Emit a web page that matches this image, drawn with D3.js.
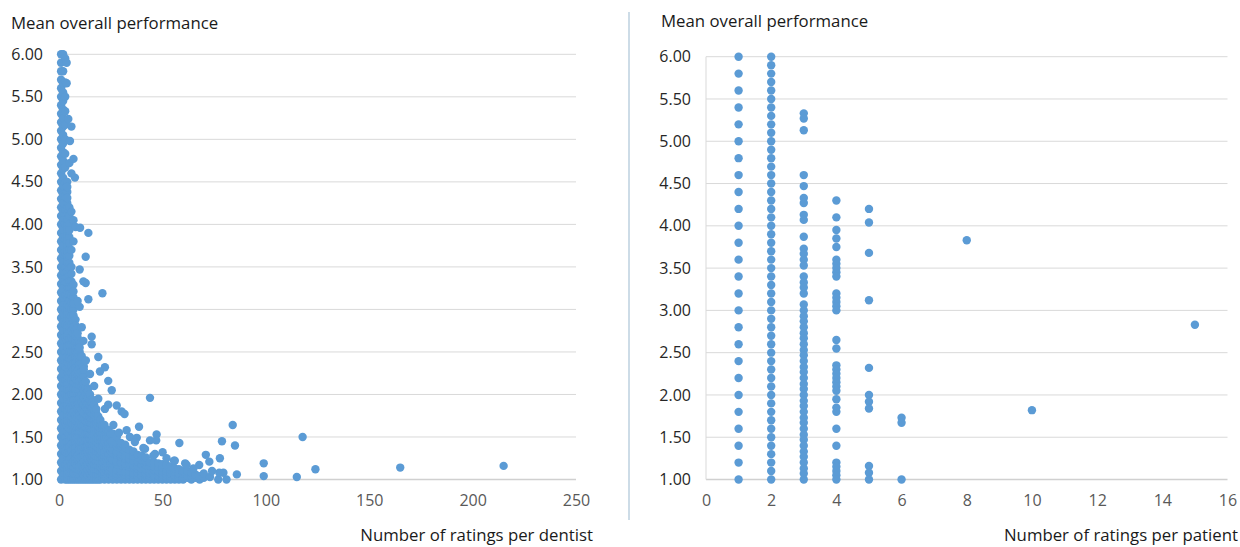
<!DOCTYPE html>
<html>
<head>
<meta charset="utf-8">
<script src="https://cdn.jsdelivr.net/npm/d3@7"></script>
<style>
html,body{margin:0;padding:0;background:#fff;}
svg{display:block;font-family:"Open Sans",sans-serif;}
</style>
</head>
<body>
<svg id="chart" width="1240" height="547"></svg>
<script>
// ---------- DATA ----------
const yTicks = [1.0,1.5,2.0,2.5,3.0,3.5,4.0,4.5,5.0,5.5,6.0];
const dentistXTicks = [0,50,100,150,200,250];
const patientXTicks = [0,2,4,6,8,10,12,14,16];

const yTitle = "Mean overall performance";
const dentistXTitle = "Number of ratings per dentist";
const patientXTitle = "Number of ratings per patient";

// Left chart: dense columns [number of ratings, list of mean values]
const dentistColumns = [
  [1, [1.0,1.1,1.2,1.3,1.4,1.5,1.6,1.7,1.8,1.9,2.0,2.1,2.2,2.3,2.4,2.5,2.6,2.7,2.8,2.9,3.0,3.1,3.2,3.3,3.4,3.5,3.6,3.7,3.8,3.9,4.0,4.1,4.2,4.3,4.4,4.5,4.6,4.7,4.8,4.9,5.0,5.1,5.2,5.3,5.4,5.5,5.6,5.7,5.8,5.9,6.0]],
  [2, [1.05,1.15,1.25,1.35,1.45,1.55,1.65,1.75,1.85,1.95,2.05,2.15,2.25,2.35,2.45,2.55,2.65,2.75,2.85,2.95,3.05,3.15,3.25,3.35,3.45,3.55,3.65,3.75,3.85,3.95,4.05,4.15,4.25,4.35,4.45,4.55,4.65,4.75,4.85,4.95,5.05,5.15,5.25,5.35,5.45,5.55,5.65,5.8,6.0]],
  [3, [1.0,1.17,1.33,1.5,1.67,1.83,2.0,2.17,2.33,2.5,2.67,2.83,3.0,3.17,3.33,3.5,3.67,3.83,4.0,4.17,4.33,4.5,4.67,4.83,5.0,5.17,5.33,5.5,5.67,5.95]],
  [4, [1.0,1.13,1.25,1.38,1.5,1.63,1.75,1.88,2.0,2.13,2.25,2.38,2.5,2.63,2.75,2.88,3.0,3.13,3.25,3.38,3.5,3.63,3.75,3.88,4.0,4.13,4.25,4.38,4.5]],
  [4, [1.06,1.19,1.31,1.44,1.56,1.69,1.81,1.94,2.06,2.19,2.31,2.44,2.56,2.69,2.81,2.94,3.06,3.19,3.31,3.44,3.56,3.69,3.81,3.94,4.06,4.19,4.31,4.44]],
  [5, [1.0,1.15,1.3,1.45,1.6,1.75,1.9,2.05,2.2,2.35,2.5,2.65,2.8,2.95,3.1,3.25,3.4,3.55,3.7,3.85,4.0,4.2]],
  [5, [1.08,1.23,1.38,1.53,1.68,1.83,1.98,2.13,2.28,2.43,2.58,2.73,2.88,3.03,3.18,3.33,3.48,3.63,3.78,3.93,4.1]],
  [6, [1.0,1.17,1.33,1.5,1.67,1.83,2.0,2.17,2.33,2.5,2.67,2.83,3.0,3.17,3.33,3.5]],
  [6, [1.08,1.25,1.42,1.58,1.75,1.92,2.08,2.25,2.42,2.58,2.75,2.92,3.08,3.25,3.42]],
  [7, [1.0,1.14,1.29,1.43,1.57,1.71,1.86,2.0,2.14,2.29,2.43,2.57,2.71,2.86,3.0,3.14,3.29]],
  [7, [1.07,1.21,1.36,1.5,1.64,1.79,1.93,2.07,2.21,2.36,2.5,2.64,2.79,2.93,3.07,3.21]],
  [8, [1.0,1.13,1.25,1.38,1.5,1.63,1.75,1.88,2.0,2.13,2.25,2.38,2.5,2.63,2.75,2.88]],
  [8, [1.06,1.19,1.31,1.44,1.56,1.69,1.81,1.94,2.06,2.19,2.31,2.44,2.56,2.69,2.81]],
  [9, [1.0,1.11,1.22,1.33,1.44,1.56,1.67,1.78,1.89,2.0,2.11,2.22,2.33,2.44,2.56,2.67,2.78]],
  [9, [1.06,1.17,1.28,1.39,1.5,1.61,1.72,1.83,1.94,2.06,2.17,2.28,2.39,2.5,2.61,2.72]],
  [10, [1.0,1.1,1.2,1.3,1.4,1.5,1.6,1.7,1.8,1.9,2.0,2.1,2.2,2.3,2.4,2.5,2.6]],
  [10, [1.05,1.15,1.25,1.35,1.45,1.55,1.65,1.75,1.85,1.95,2.05,2.15,2.25,2.35,2.45,2.55]],
  [11, [1.0,1.09,1.18,1.27,1.36,1.45,1.55,1.64,1.73,1.82,1.91,2.0,2.09,2.18,2.27,2.36,2.45]],
  [12, [1.0,1.08,1.17,1.25,1.33,1.42,1.5,1.58,1.67,1.75,1.83,1.92,2.0,2.08,2.17,2.25,2.33]],
  [12, [1.04,1.13,1.21,1.29,1.38,1.46,1.54,1.63,1.71,1.79,1.88,1.96,2.04,2.13,2.21,2.29]],
  [13, [1.0,1.08,1.15,1.23,1.31,1.38,1.46,1.54,1.62,1.69,1.77,1.85,1.92,2.0,2.08,2.15]],
  [14, [1.0,1.07,1.14,1.21,1.29,1.36,1.43,1.5,1.57,1.64,1.71,1.79,1.86,1.93,2.0,2.07]],
  [14, [1.04,1.11,1.18,1.25,1.32,1.39,1.46,1.54,1.61,1.68,1.75,1.82,1.89,1.96,2.04]],
  [15, [1.0,1.07,1.13,1.2,1.27,1.33,1.4,1.47,1.53,1.6,1.67,1.73,1.8,1.87,1.93,2.0]],
  [16, [1.0,1.06,1.13,1.19,1.25,1.31,1.38,1.44,1.5,1.56,1.63,1.69,1.75,1.81,1.88,1.94]],
  [16, [1.03,1.09,1.16,1.22,1.28,1.34,1.41,1.47,1.53,1.59,1.66,1.72,1.78,1.84,1.91]],
  [17, [1.0,1.06,1.12,1.18,1.24,1.29,1.35,1.41,1.47,1.53,1.59,1.65,1.71,1.76,1.82,1.88]],
  [18, [1.0,1.06,1.11,1.17,1.22,1.28,1.33,1.39,1.44,1.5,1.56,1.61,1.67,1.72,1.78,1.83]],
  [19, [1.0,1.05,1.11,1.16,1.21,1.26,1.32,1.37,1.42,1.47,1.53,1.58,1.63,1.68,1.74]],
  [20, [1.0,1.05,1.1,1.15,1.2,1.25,1.3,1.35,1.4,1.45,1.5,1.55,1.6,1.65,1.7]],
  [21, [1.02,1.07,1.12,1.17,1.21,1.26,1.31,1.36,1.4,1.45,1.5,1.55,1.6,1.64]],
  [22, [1.0,1.05,1.09,1.14,1.23,1.27,1.32,1.41,1.45,1.5,1.59,1.64]],
  [23, [1.02,1.07,1.11,1.15,1.2,1.24,1.28,1.33,1.37,1.41,1.46,1.5,1.54,1.59]],
  [24, [1.0,1.04,1.08,1.13,1.17,1.25,1.29,1.38,1.42,1.5,1.54,1.58]],
  [25, [1.02,1.06,1.1,1.14,1.18,1.22,1.26,1.3,1.34,1.38,1.42,1.46,1.5,1.54]],
  [26, [1.0,1.04,1.08,1.12,1.19,1.23,1.31,1.35,1.42,1.46,1.54]],
  [28, [1.0,1.04,1.07,1.11,1.18,1.21,1.29,1.32,1.39,1.43,1.5]],
  [30, [1.0,1.03,1.07,1.1,1.17,1.2,1.27,1.3,1.37,1.4,1.43]],
  [32, [1.0,1.03,1.06,1.09,1.16,1.19,1.25,1.28,1.34,1.38,1.41]],
  [34, [1.0,1.03,1.06,1.09,1.15,1.18,1.24,1.29,1.35]],
  [36, [1.0,1.03,1.06,1.08,1.14,1.17,1.22,1.28,1.33]],
  [38, [1.0,1.03,1.05,1.08,1.13,1.16,1.21,1.26,1.29]],
  [40, [1.0,1.03,1.05,1.08,1.13,1.18,1.23,1.28]],
  [42, [1.0,1.02,1.05,1.07,1.12,1.17,1.21,1.26]],
  [44, [1.0,1.02,1.05,1.07,1.11,1.16,1.2]],
  [46, [1.0,1.02,1.04,1.07,1.11,1.15,1.2]],
  [48, [1.0,1.02,1.04,1.06,1.1,1.15,1.19]],
  [50, [1.0,1.02,1.04,1.06,1.1,1.14,1.18]],
  [52, [1.0,1.02,1.04,1.06,1.1,1.13,1.17]],
  [54, [1.0,1.02,1.04,1.07,1.11,1.15]],
  [56, [1.0,1.02,1.05,1.09,1.13]],
  [58, [1.0,1.03,1.07,1.12]],
  [60, [1.0,1.03,1.07,1.1]],
  [62, [1.02,1.05,1.1]],
  [64, [1.0,1.04,1.08]],
  [66, [1.02,1.06]],
  [68, [1.0,1.04]],
  [70, [1.02,1.07]]
];

// Left chart: scattered individual dentists [number of ratings, mean]
const dentistOutliers = [
  [3.7,5.9],[3.7,5.66],[4.5,5.24],[6,5.15],[5.3,4.98],[5,4.72],[7,4.77],[7.7,4.55],[6,4.6],
  [6,4.15],[7,4.05],[8,3.97],[10.2,3.96],[14.2,3.9],[7,3.8],[12.9,3.62],[6,3.7],
  [10,3.47],[11.8,3.33],[12.9,3.31],[21,3.19],[14.2,3.12],[10,3.03],[9,3.1],[11,2.79],
  [15.8,2.68],[15.8,2.59],[11.8,2.63],[13,2.4],[19,2.44],[22.2,2.32],[19.8,2.27],[15,2.24],
  [17,2.1],[23.8,2.16],[25.5,2.05],[44,1.96],[19,1.95],[23.8,1.88],[27.9,1.87],[30.3,1.8],
  [31.7,1.77],[22.2,1.83],[26.3,1.64],[32.7,1.58],[38.7,1.62],[29,1.55],[34.3,1.5],[37.6,1.49],
  [47.2,1.53],[44,1.46],[47,1.46],[58.2,1.43],[41.6,1.36],[36.7,1.44],[40.8,1.37],[78.8,1.45],
  [85.1,1.40],[84,1.64],[117.8,1.50],[50.1,1.32],[71,1.29],[45.6,1.28],[46.4,1.30],[56,1.22],
  [72.7,1.21],[77.8,1.25],[61,1.19],[67.8,1.17],[99,1.19],[65,1.13],[61.7,1.17],[124,1.12],
  [165,1.14],[215,1.16],[73,1.03],[77,1.0],[81,1.0],[79.5,1.08],[77.5,1.08],[86,1.06],
  [99,1.04],[115,1.03],[74,1.1],[55.6,1.22],[52,1.25]
];

// Right chart: [number of ratings per patient, list of mean values]
const patientColumns = [
  [1, [1.0,1.2,1.4,1.6,1.8,2.0,2.2,2.4,2.6,2.8,3.0,3.2,3.4,3.6,3.8,4.0,4.2,4.4,4.6,4.8,5.0,5.2,5.4,5.6,5.8,6.0]],
  [2, [1.0,1.1,1.2,1.3,1.4,1.5,1.6,1.7,1.8,1.9,2.0,2.1,2.2,2.3,2.4,2.5,2.6,2.7,2.8,2.9,3.0,3.1,3.2,3.3,3.4,3.5,3.6,3.7,3.8,3.9,4.0,4.1,4.2,4.3,4.4,4.5,4.6,4.7,4.8,4.9,5.0,5.1,5.2,5.3,5.4,5.5,5.6,5.7,5.8,5.9,6.0]],
  [3, [5.33,5.27,5.13,4.6,4.47,4.33,4.27,4.13,4.07,3.87,3.73,3.67,3.6,3.53,3.4,3.33,3.27,3.2,3.07,3.0,2.93,2.87,2.8,2.73,2.67,2.6,2.53,2.47,2.4,2.33,2.27,2.2,2.13,2.07,2.0,1.93,1.87,1.8,1.73,1.67,1.6,1.53,1.47,1.4,1.33,1.27,1.2,1.13,1.07,1.0]],
  [4, [4.3,4.1,3.95,3.85,3.75,3.6,3.55,3.5,3.45,3.4,3.2,3.15,3.1,3.05,3.0,2.65,2.55,2.35,2.3,2.25,2.2,2.15,2.1,2.05,1.95,1.85,1.8,1.6,1.4,1.2,1.15,1.1,1.05,1.0]],
  [5, [4.2,4.04,3.68,3.12,2.32,2.0,1.92,1.84,1.16,1.08,1.0]],
  [6, [1.73,1.67,1.0]],
  [8, [3.83]],
  [10, [1.82]],
  [15, [2.83]]
];

// ---------- DRAWING ----------
const svg = d3.select("#chart");
const dotColor = "#5B9BD5";
const gridColor = "#d9d9d9";
const fmt = d3.format(".2f");

function panel(opt) {
  const g = svg.append("g");
  const x = d3.scaleLinear().domain(opt.xDomain).range(opt.xRange);
  const y = d3.scaleLinear().domain([1, 6]).range(opt.yRange);

  // gridlines
  g.append("g").selectAll("line").data(yTicks.filter(v => v > 1)).join("line")
    .attr("x1", opt.xRange[0]).attr("x2", opt.xRange[1])
    .attr("y1", d => y(d)).attr("y2", d => y(d))
    .attr("stroke", gridColor).attr("stroke-width", 1);

  // axis lines
  g.append("line").attr("x1", opt.xRange[0]).attr("x2", opt.xRange[1])
    .attr("y1", y(1)).attr("y2", y(1)).attr("stroke", "#d0d0d0").attr("stroke-width", 1.5);
  g.append("line").attr("x1", opt.xRange[0]).attr("x2", opt.xRange[0])
    .attr("y1", y(6)).attr("y2", y(1)).attr("stroke", gridColor).attr("stroke-width", 1);

  // y axis
  const ya = g.append("g").attr("transform", `translate(${opt.xRange[0]},0)`)
    .call(d3.axisLeft(y).tickValues(yTicks).tickFormat(fmt).tickSize(0).tickPadding(opt.yPad));
  ya.select(".domain").remove();
  ya.selectAll("text").attr("font-family", '"Open Sans",sans-serif')
    .attr("font-size", 16).attr("fill", "#262626");

  // x axis
  const xa = g.append("g").attr("transform", `translate(0,${y(1)})`)
    .call(d3.axisBottom(x).tickValues(opt.xTicks).tickFormat(d3.format("d")).tickSize(0).tickPadding(15));
  xa.select(".domain").remove();
  xa.selectAll("text").attr("font-family", '"Open Sans",sans-serif')
    .attr("font-size", 16).attr("fill", "#595959");

  // points
  const pts = [];
  opt.columns.forEach(([cx, ys]) => ys.forEach(v => pts.push([cx, v])));
  (opt.extra || []).forEach(p => pts.push(p));
  g.append("g").selectAll("circle").data(pts).join("circle")
    .attr("cx", d => x(d[0])).attr("cy", d => y(d[1])).attr("r", 4.2)
    .attr("fill", dotColor);

  // titles
  g.append("text").attr("x", opt.titleX).attr("y", opt.titleY)
    .attr("font-size", 16.8).attr("fill", "#1a1a1a").text(yTitle);
  g.append("text").attr("x", opt.xTitleX).attr("y", 541).attr("text-anchor", "end")
    .attr("font-size", 16.8).attr("fill", "#1a1a1a").text(opt.xTitle);
}

panel({
  xDomain: [0, 250], xRange: [59, 576], yRange: [479.5, 54.3], yPad: 16,
  xTicks: dentistXTicks, columns: dentistColumns, extra: dentistOutliers,
  titleX: 11, titleY: 29, xTitle: dentistXTitle, xTitleX: 593
});
panel({
  xDomain: [0, 16], xRange: [706, 1227.5], yRange: [479.5, 56.7], yPad: 15,
  xTicks: patientXTicks, columns: patientColumns,
  titleX: 661, titleY: 27, xTitle: patientXTitle, xTitleX: 1238
});

// separator
svg.append("line").attr("x1", 629).attr("x2", 629).attr("y1", 12).attr("y2", 520)
  .attr("stroke", "#bcd0df").attr("stroke-width", 1.5);
</script>
</body>
</html>
